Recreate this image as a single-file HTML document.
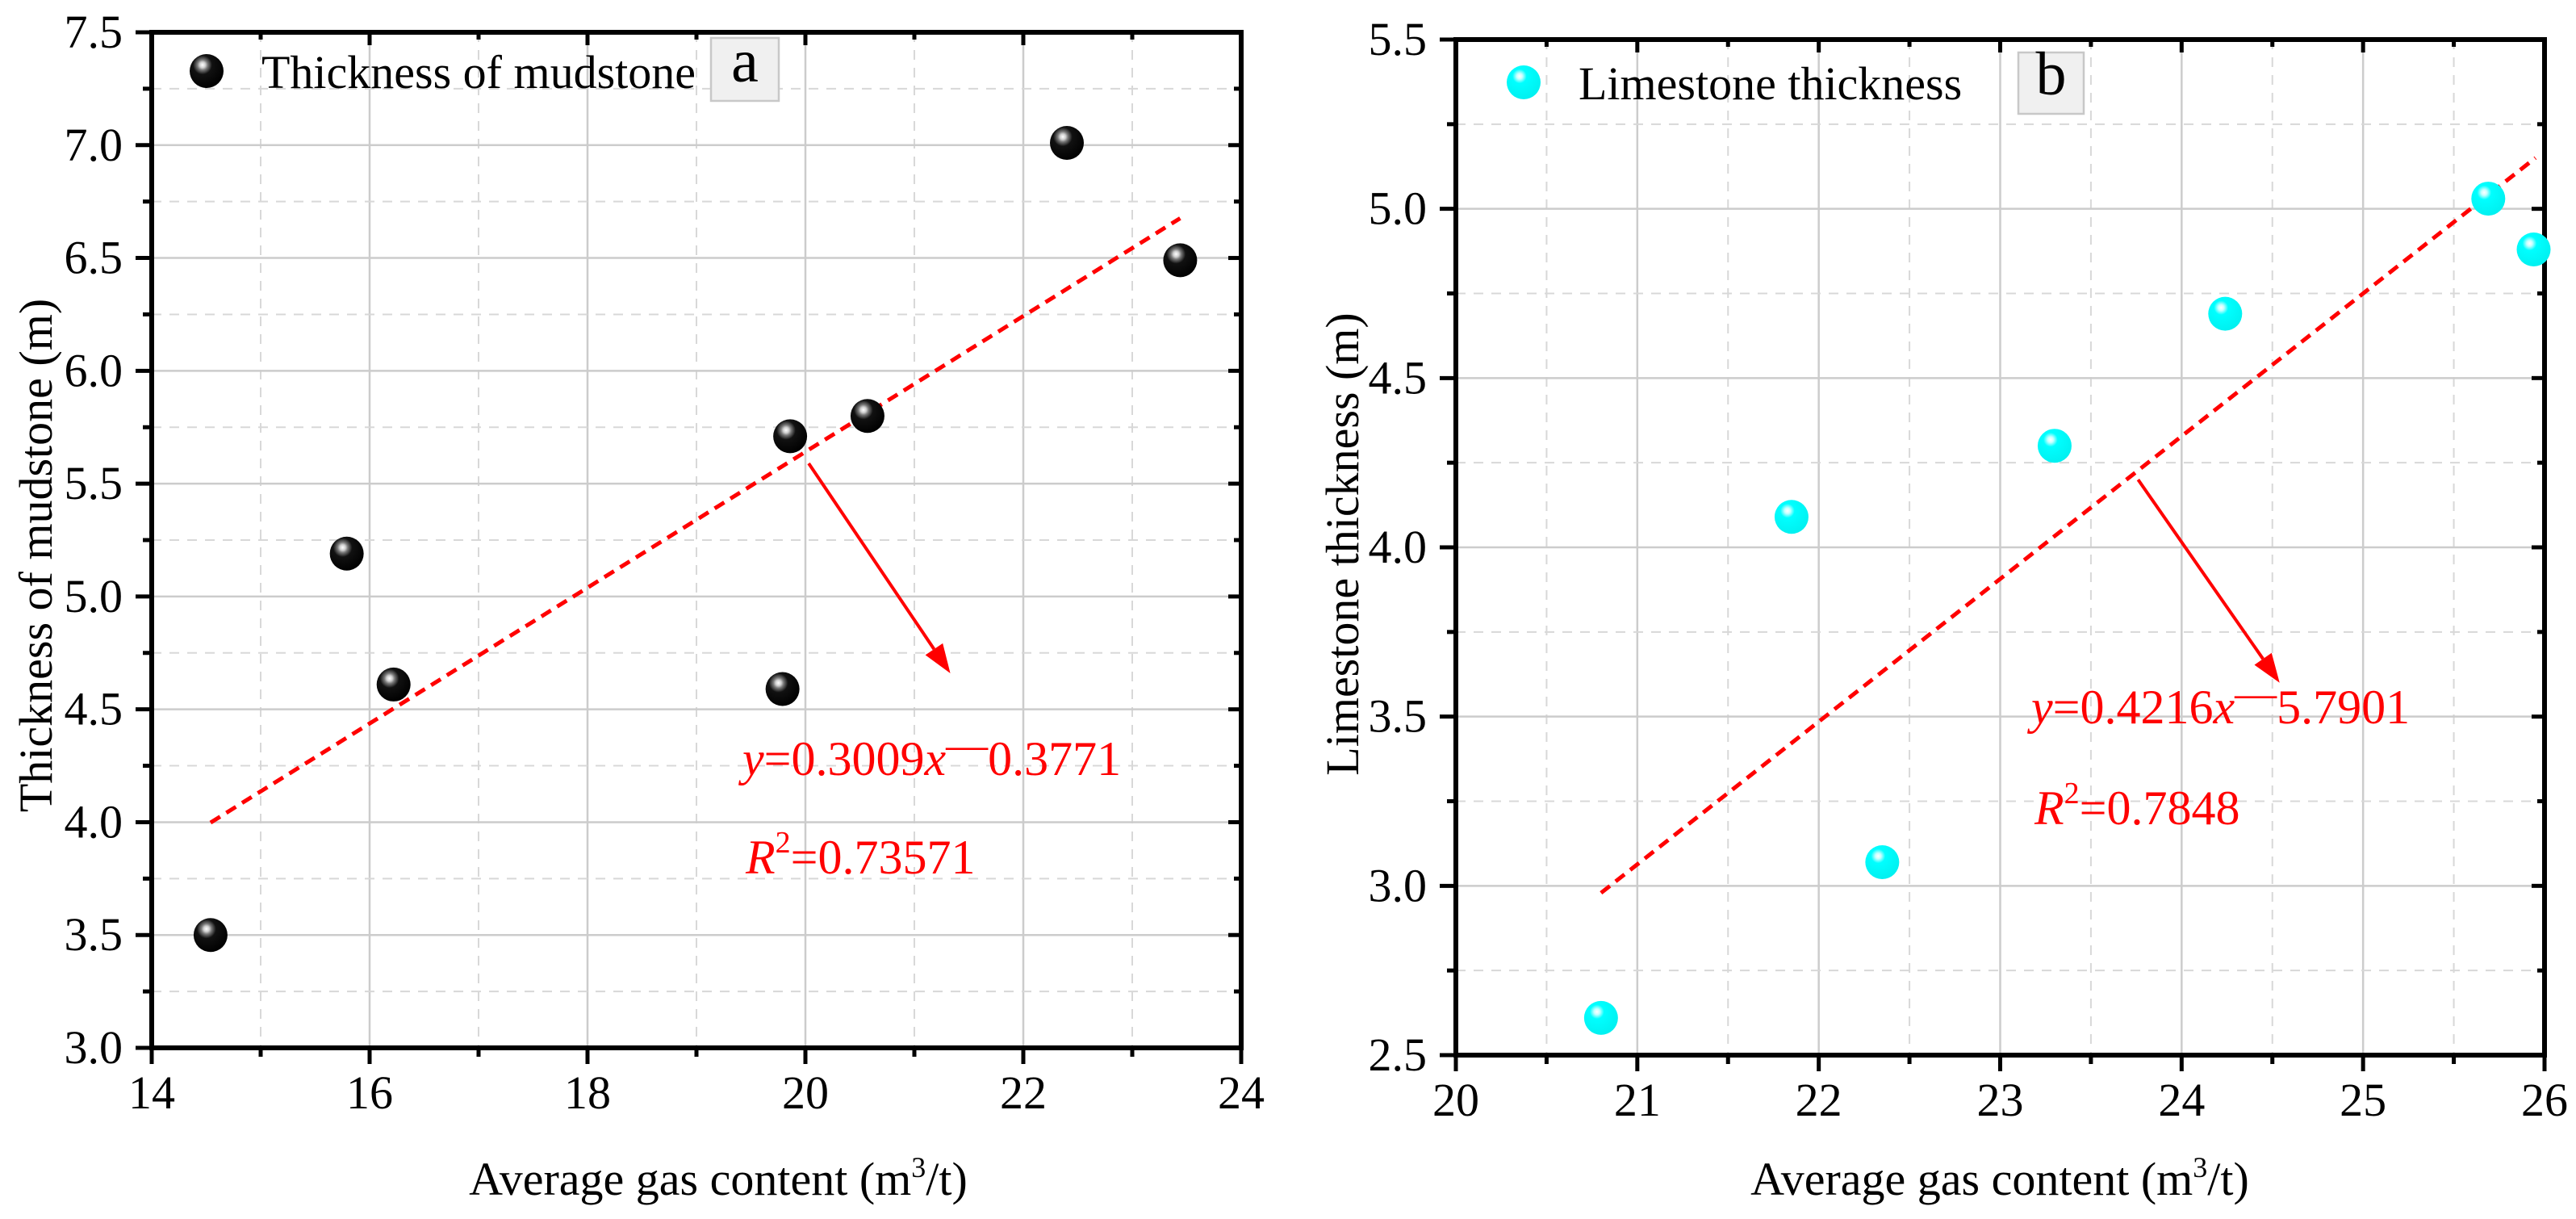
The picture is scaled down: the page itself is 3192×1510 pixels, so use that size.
<!DOCTYPE html>
<html><head><meta charset="utf-8"><style>
html,body{margin:0;padding:0;background:#fff;}
svg{display:block;}
svg text{font-family:"Liberation Serif","DejaVu Serif",serif;}
</style></head><body>
<svg id="fig" width="3192" height="1510" viewBox="0 0 3192 1510" xmlns="http://www.w3.org/2000/svg" font-family="Liberation Serif, DejaVu Serif, serif">
<defs>
<radialGradient id="gBlack" cx="0.38" cy="0.32" r="0.7">
<stop offset="0" stop-color="#ffffff"/><stop offset="0.12" stop-color="#cfcfcf"/><stop offset="0.22" stop-color="#777"/><stop offset="0.4" stop-color="#111"/><stop offset="1" stop-color="#000"/>
</radialGradient>
<radialGradient id="gCyan" cx="0.38" cy="0.32" r="0.7">
<stop offset="0" stop-color="#ffffff"/><stop offset="0.12" stop-color="#c8ffff"/><stop offset="0.3" stop-color="#00ffff"/><stop offset="1" stop-color="#00f0f0"/>
</radialGradient>
</defs>
</svg>
<script>
// ---- Chart a data ----
const aX = [14.54, 15.79, 16.22, 19.79, 19.86, 20.57, 22.40, 23.44];
const aY = [3.50, 5.19, 4.61, 4.59, 5.71, 5.80, 7.01, 6.49];
const aSlope = 0.3009;
const aIntercept = -0.3771;
const aFitRange = [14.54, 23.44];
const aXTicks = ["14", "16", "18", "20", "22", "24"];
const aYTicks = ["3.0", "3.5", "4.0", "4.5", "5.0", "5.5", "6.0", "6.5", "7.0", "7.5"];
// ---- Chart b data ----
const bX = [20.80, 21.85, 22.35, 23.30, 24.24, 25.69, 25.94];
const bY = [2.61, 4.09, 3.07, 4.30, 4.69, 5.03, 4.88];
const bSlope = 0.4216;
const bIntercept = -5.7901;
const bFitRange = [20.80, 25.95];
const bXTicks = ["20", "21", "22", "23", "24", "25", "26"];
const bYTicks = ["2.5", "3.0", "3.5", "4.0", "4.5", "5.0", "5.5"];

const NS = "http://www.w3.org/2000/svg";
const FONT = '"Liberation Serif", "DejaVu Serif", serif';
const svg = document.getElementById('fig');
function mk(tag, attrs, parent, text){
  const e = document.createElementNS(NS, tag);
  for (const k in attrs) e.setAttribute(k, attrs[k]);
  if (tag === 'text') e.style.fontFamily = FONT;
  if (text !== undefined) e.textContent = text;
  (parent || svg).appendChild(e);
  return e;
}

function drawChart(cfg){
  const g = mk('g', {});
  
  
  const xmin = parseFloat(cfg.xTicks[0]), xmax = parseFloat(cfg.xTicks[cfg.xTicks.length-1]);
  const ymin = parseFloat(cfg.yTicks[0]), ymax = parseFloat(cfg.yTicks[cfg.yTicks.length-1]);
  const sx = v => cfg.L + (v - xmin) / (xmax - xmin) * (cfg.R - cfg.L);
  const sy = v => cfg.B - (v - ymin) / (ymax - ymin) * (cfg.B - cfg.T);
  const xStep = parseFloat(cfg.xTicks[1]) - xmin, yStep = parseFloat(cfg.yTicks[1]) - ymin;

  const grid = mk('g', {}, g);
  
  
  for (let i = 0; i < cfg.xTicks.length; i++){
    const v = parseFloat(cfg.xTicks[i]);
    if (i > 0 && i < cfg.xTicks.length - 1) mk('line', {x1:sx(v), x2:sx(v), y1:cfg.T, y2:cfg.B, stroke:'#cccccc', 'stroke-width':2.5}, grid);
    if (i < cfg.xTicks.length - 1) mk('line', {x1:sx(v+xStep/2), x2:sx(v+xStep/2), y1:cfg.T, y2:cfg.B, stroke:'#d8d8d8', 'stroke-width':2, 'stroke-dasharray':'12 10'}, grid);
  }
  for (let i = 0; i < cfg.yTicks.length; i++){
    const v = parseFloat(cfg.yTicks[i]);
    if (i > 0 && i < cfg.yTicks.length - 1) mk('line', {y1:sy(v), y2:sy(v), x1:cfg.L, x2:cfg.R, stroke:'#cccccc', 'stroke-width':2.5}, grid);
    if (i < cfg.yTicks.length - 1) mk('line', {y1:sy(v+yStep/2), y2:sy(v+yStep/2), x1:cfg.L, x2:cfg.R, stroke:'#d8d8d8', 'stroke-width':2, 'stroke-dasharray':'12 10'}, grid);
  }

  const frame = mk('rect', {x:cfg.L, y:cfg.T, width:cfg.R-cfg.L, height:cfg.B-cfg.T, fill:'none', stroke:'#000', 'stroke-width':6}, g);
  
  

  const ticks = mk('g', {stroke:'#000', 'stroke-width':5}, g);
  
  
  for (let i = 0; i < cfg.xTicks.length; i++){
    const v = parseFloat(cfg.xTicks[i]);
    mk('line', {x1:sx(v), x2:sx(v), y1:cfg.B, y2:cfg.B+20}, ticks);
    mk('line', {x1:sx(v), x2:sx(v), y1:cfg.T, y2:cfg.T+16}, ticks);
    if (i < cfg.xTicks.length - 1){
      const m = sx(v + xStep/2);
      mk('line', {x1:m, x2:m, y1:cfg.B, y2:cfg.B+11}, ticks);
      mk('line', {x1:m, x2:m, y1:cfg.T, y2:cfg.T+9}, ticks);
    }
  }
  for (let i = 0; i < cfg.yTicks.length; i++){
    const v = parseFloat(cfg.yTicks[i]);
    mk('line', {y1:sy(v), y2:sy(v), x1:cfg.L-20, x2:cfg.L}, ticks);
    mk('line', {y1:sy(v), y2:sy(v), x1:cfg.R-16, x2:cfg.R}, ticks);
    if (i < cfg.yTicks.length - 1){
      const m = sy(v + yStep/2);
      mk('line', {y1:m, y2:m, x1:cfg.L-11, x2:cfg.L}, ticks);
      mk('line', {y1:m, y2:m, x1:cfg.R-9, x2:cfg.R}, ticks);
    }
  }

  for (let i = 0; i < cfg.xTicks.length; i++){
    const t = mk('text', {x:sx(parseFloat(cfg.xTicks[i])), y:cfg.B+75, 'font-size':58, 'text-anchor':'middle', fill:'#000'}, g, cfg.xTicks[i]);
    
    
  }
  for (let i = 0; i < cfg.yTicks.length; i++){
    const t = mk('text', {x:cfg.L-36, y:sy(parseFloat(cfg.yTicks[i]))+19, 'font-size':58, 'text-anchor':'end', fill:'#000'}, g, cfg.yTicks[i]);
    
    
  }

  const xt = mk('text', {x:cfg.xTitleX, y:1480, 'font-size':58, 'text-anchor':'middle', fill:'#000'}, g);
  
  
  mk('tspan', {}, xt, 'Average gas content (m');
  mk('tspan', {'font-size':36, dy:-22}, xt, '3');
  mk('tspan', {dy:22}, xt, '/t)');
  const yt = mk('text', {x:0, y:0, 'font-size':58, 'text-anchor':'middle', fill:'#000', transform:'translate('+cfg.yTitleX+','+cfg.yTitleY+') rotate(-90)'}, g, cfg.yTitle);
  
  

  const fl = mk('line', {x1:sx(cfg.fit[0]), y1:sy(cfg.slope*cfg.fit[0]+cfg.icpt), x2:sx(cfg.fit[1]), y2:sy(cfg.slope*cfg.fit[1]+cfg.icpt), stroke:'#ff0000', 'stroke-width':5, 'stroke-dasharray':'14 9'}, g);
  
  

  const pts = mk('g', {}, g);
  
  
  for (let i = 0; i < cfg.xs.length; i++){
    const c = mk('circle', {cx:sx(cfg.xs[i]), cy:sy(cfg.ys[i]), r:21, fill:cfg.fill}, pts);
    
    
  }

  const ax1 = sx(cfg.arrow[0]), ay1 = sy(cfg.arrow[1]), ax2 = sx(cfg.arrow[2]), ay2 = sy(cfg.arrow[3]);
  const ang = Math.atan2(ay2-ay1, ax2-ax1), hl = 36, hw = 13;
  const bx = ax2 - hl*Math.cos(ang), by = ay2 - hl*Math.sin(ang);
  const ar = mk('g', {}, g);
  
  
  mk('line', {x1:ax1, y1:ay1, x2:bx, y2:by, stroke:'#ff0000', 'stroke-width':4}, ar);
  mk('polygon', {points:[ax2,ay2, bx+hw*Math.sin(ang),by-hw*Math.cos(ang), bx-hw*Math.sin(ang),by+hw*Math.cos(ang)].join(' '), fill:'#ff0000'}, ar);

  const eq = mk('text', {x:cfg.eqX, y:cfg.eqY, 'font-size':60, fill:'#ff0000'}, g);
  
  
  mk('tspan', {'font-style':'italic'}, eq, 'y');
  mk('tspan', {}, eq, '=' + cfg.slope.toFixed(4));
  mk('tspan', {'font-style':'italic'}, eq, 'x');
  mk('tspan', {dy:-20, 'font-size':52}, eq, '\u2014');
  mk('tspan', {dy:20}, eq, Math.abs(cfg.icpt).toFixed(4));
  const r2 = mk('text', {x:cfg.eqX+4, y:cfg.r2Y, 'font-size':60, fill:'#ff0000'}, g);
  
  
  mk('tspan', {'font-style':'italic'}, r2, 'R');
  mk('tspan', {'font-size':38, dy:-26}, r2, '2');
  mk('tspan', {dy:26}, r2, '=' + cfg.r2);

  const lg = mk('g', {}, g);
  
  
  mk('circle', {cx:cfg.legX, cy:cfg.legY, r:21, fill:cfg.fill}, lg);
  mk('text', {x:cfg.legX+68, y:cfg.legY+21, 'font-size':58, fill:'#000'}, lg, cfg.legText);

  const pl = mk('g', {}, g);
  
  
  mk('rect', {x:cfg.box[0], y:cfg.box[1], width:cfg.box[2], height:cfg.box[3], fill:'#f0f0f0', stroke:'#c8c8c8', 'stroke-width':2.5}, pl);
  mk('text', {x:cfg.box[0]+cfg.box[2]/2, y:cfg.box[1]+cfg.box[3]-24, 'font-size':76, 'text-anchor':'middle', fill:'#000'}, pl, cfg.label);
}

drawChart({name:'chart-a-mudstone', L:188, R:1538, T:40, B:1298,
  xTicks:aXTicks, yTicks:aYTicks, xs:aX, ys:aY, slope:aSlope, icpt:aIntercept, fit:aFitRange,
  fill:'url(#gBlack)', arrow:[20.03,5.59,21.33,4.66], eqX:920, eqY:960, r2Y:1082, r2:'0.73571',
  legX:256, legY:88, legText:'Thickness of mudstone', box:[881,47,84,78], label:'a',
  xTitleX:890, yTitleX:64, yTitleY:688, yTitle:'Thickness of mudstone (m)'});
drawChart({name:'chart-b-limestone', L:1804, R:3153, T:49, B:1307,
  xTicks:bXTicks, yTicks:bYTicks, xs:bX, ys:bY, slope:bSlope, icpt:bIntercept, fit:bFitRange,
  fill:'url(#gCyan)', arrow:[23.76,4.20,24.54,3.60], eqX:2517, eqY:896, r2Y:1021, r2:'0.7848',
  legX:1888, legY:102, legText:'Limestone thickness', box:[2501,65,81,76], label:'b',
  xTitleX:2478, yTitleX:1683, yTitleY:674, yTitle:'Limestone thickness (m)'});
</script>
</body></html>
